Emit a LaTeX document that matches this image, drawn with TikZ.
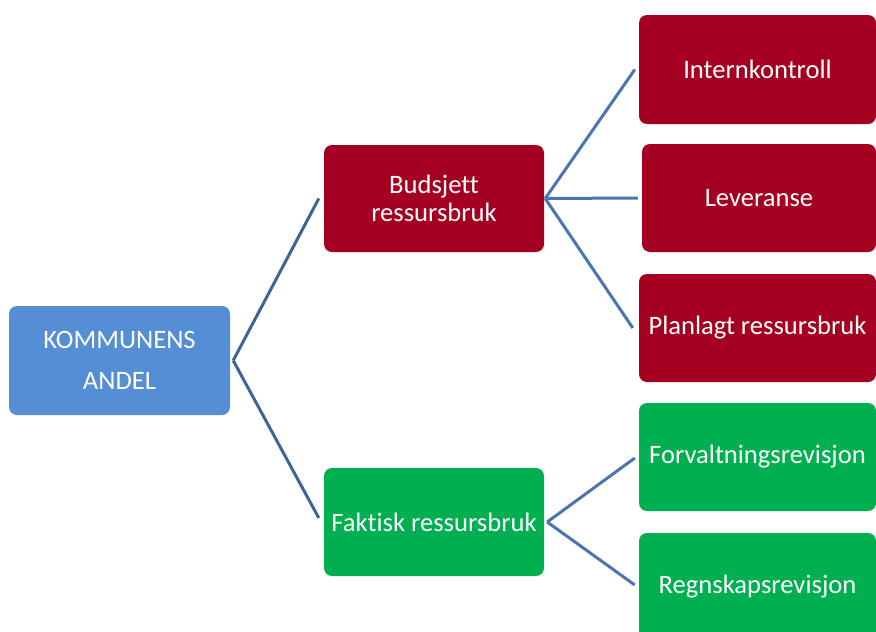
\documentclass[tikz,border=0pt]{standalone}
\usepackage{fontspec}
\setmainfont{Carlito}[RawFeature=-liga]
\usetikzlibrary{calc}
\definecolor{rootblue}{HTML}{558ED5}
\definecolor{darkred}{HTML}{A50021}
\definecolor{okgreen}{HTML}{00B050}
\definecolor{linkblue}{HTML}{4A76B0}
\definecolor{linkdark}{HTML}{3E6598}
\begin{document}
\begin{tikzpicture}[x=1pt,y=-1pt,
  box/.style={rounded corners=8pt, text=white, align=center, inner sep=0pt,
    font=\fontsize{26.6}{28}\selectfont},
  rootbox/.style={box, fill=rootblue, minimum width=221pt, minimum height=109pt,
    font=\fontsize{26.6}{41}\selectfont},
  redbox/.style={box, fill=darkred},
  greenbox/.style={box, fill=okgreen},
  link/.style={draw=linkblue, line width=3pt},
  rootlink/.style={draw=linkdark, line width=3pt}]
\useasboundingbox (0,0) rectangle (876,632);
\begin{scope}
\clip (0,0) rectangle (876,632);
\node[rootbox] (root) at (119.5,360.5) {KOMMUNENS\\ANDEL};
\node[redbox, minimum width=220pt, minimum height=107pt] (bud) at (434,198.5) {Budsjett\\ressursbruk};
\node[greenbox, minimum width=220pt, minimum height=108pt] (fak) at (434,522) {Faktisk ressursbruk};
\node[redbox, minimum width=237pt, minimum height=109pt] (int) at (757.5,69.5) {Internkontroll};
\node[redbox, minimum width=234pt, minimum height=108pt] (lev) at (759,198) {Leveranse};
\node[redbox, minimum width=237pt, minimum height=108pt] (pla) at (757.5,328) {Planlagt ressursbruk};
\node[greenbox, minimum width=237pt, minimum height=108pt] (for) at (757.5,457) {Forvaltningsrevisjon};
\node[greenbox, minimum width=237pt, minimum height=108pt] (reg) at (757.5,587) {Regnskapsrevisjon};
\end{scope}
\coordinate (rj) at ($(root.east)+(3,0)$);
\coordinate (bj) at ($(bud.east)+(1,0)$);
\coordinate (fj) at ($(fak.east)+(3,0)$);
\draw[rootlink] (rj) -- ($(bud.west)+(-5,0)$);
\draw[rootlink] (rj) -- ($(fak.west)+(-5,-4)$);
\draw[link] (bj) -- ($(int.west)+(-4,0)$);
\draw[link] (bj) -- ($(lev.west)+(-4,0)$);
\draw[link] (bj) -- ($(pla.west)+(-6,0)$);
\draw[link] (fj) -- ($(for.west)+(-4,1)$);
\draw[link] (fj) -- ($(reg.west)+(-4,-2)$);
\end{tikzpicture}
\end{document}
